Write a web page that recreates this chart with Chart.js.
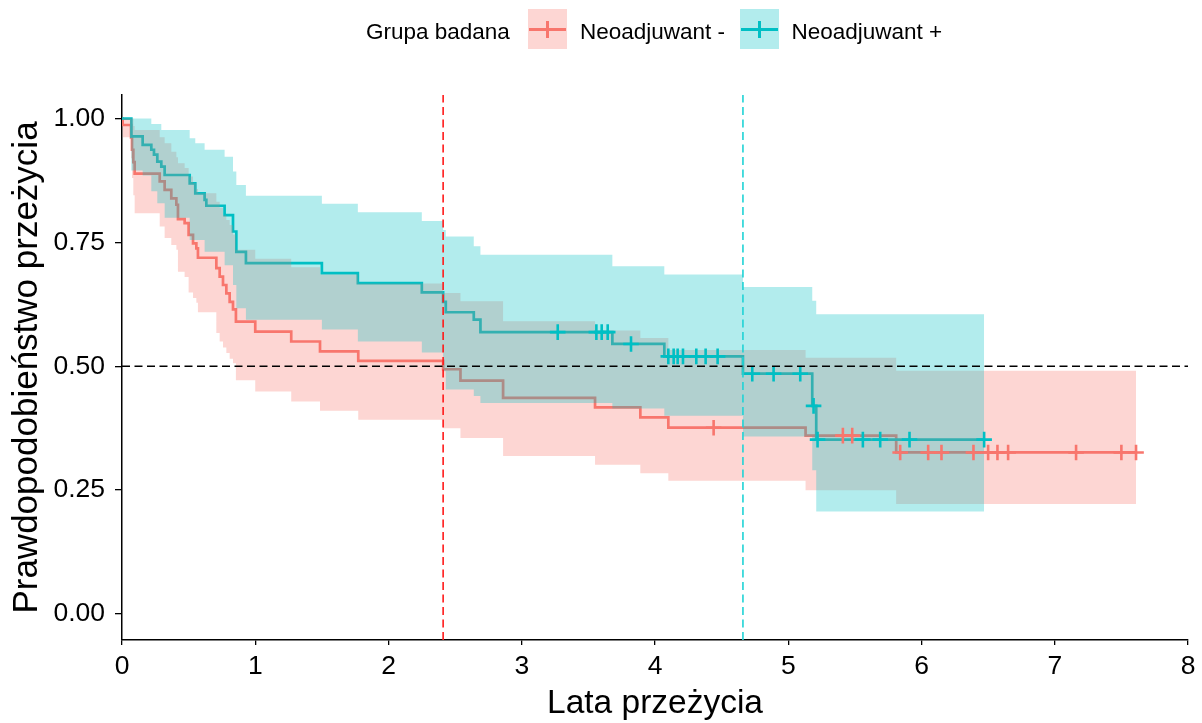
<!DOCTYPE html>
<html>
<head>
<meta charset="utf-8">
<title>Krzywe przeżycia Kaplana-Meiera</title>
<script src="https://cdn.jsdelivr.net/npm/chart.js@4.4.1/dist/chart.umd.min.js"></script>
<style>
  html, body { margin: 0; padding: 0; background: #ffffff; }
  #wrap { position: relative; width: 1202px; height: 723px; font-family: "Liberation Sans", Arial, sans-serif; }
  #chart { position: absolute; left: 0; top: 0; }
  .lg-text { position: absolute; top: 11.5px; height: 40px; line-height: 40px; font-size: 22.5px; color: #000; white-space: nowrap; }
  .lg-key { position: absolute; top: 9px; width: 39px; height: 40px; }
  .lg-key .h { position: absolute; left: 1px; right: 1px; top: 18.8px; height: 2.8px; }
  .lg-key .v { position: absolute; left: 18.2px; width: 2.6px; top: 11.7px; height: 17px; }
</style>
</head>
<body>
<div id="wrap">
  <canvas id="chart" width="1202" height="723"></canvas>
  <div class="lg-text" style="left:366px">Grupa badana</div>
  <div class="lg-key" style="left:528px;background:rgba(248,118,109,0.3)"><div class="h" style="background:#F8766D"></div><div class="v" style="background:#F8766D"></div></div>
  <div class="lg-text" style="left:580px">Neoadjuwant -</div>
  <div class="lg-key" style="left:740px;background:rgba(0,191,196,0.3)"><div class="h" style="background:#00BFC4"></div><div class="v" style="background:#00BFC4"></div></div>
  <div class="lg-text" style="left:791.5px">Neoadjuwant +</div>
</div>
<script>
// Axis ticks
const xTicks = [0, 1, 2, 3, 4, 5, 6, 7, 8];
const yTicks = [0, 0.25, 0.5, 0.75, 1];

// Group "Neoadjuwant -": event times (years), survival estimate, 95% CI
const negTimes = [0, 0.005, 0.068, 0.075, 0.085, 0.095, 0.283, 0.32, 0.37, 0.408, 0.42, 0.47, 0.50, 0.533, 0.558, 0.57,
  0.708, 0.733, 0.758, 0.783, 0.808, 0.833, 0.855, 1.0, 1.27, 1.486, 1.773, 2.41, 2.54, 2.86, 3.55, 3.89, 4.10, 5.13, 5.81];
const negSurv = [1, 0.987, 0.962, 0.937, 0.912, 0.889, 0.873, 0.856, 0.839, 0.826, 0.797, 0.789, 0.765, 0.748, 0.738, 0.719,
  0.698, 0.681, 0.664, 0.647, 0.630, 0.615, 0.590, 0.570, 0.550, 0.530, 0.511, 0.494, 0.471, 0.436, 0.417, 0.397, 0.376, 0.360, 0.326];
const negUpper = [1, 1, 1, 1, 0.985, 0.977, 0.962, 0.950, 0.933, 0.922, 0.910, 0.900, 0.883, 0.870, 0.858, 0.849,
  0.832, 0.820, 0.805, 0.795, 0.785, 0.766, 0.735, 0.717, 0.700, 0.685, 0.667, 0.648, 0.631, 0.591, 0.572, 0.557, 0.533, 0.517, 0.491];
const negLower = [1, 0.962, 0.920, 0.880, 0.845, 0.809, 0.782, 0.759, 0.745, 0.735, 0.691, 0.680, 0.649, 0.638, 0.628, 0.609,
  0.567, 0.550, 0.538, 0.527, 0.515, 0.506, 0.472, 0.449, 0.429, 0.410, 0.392, 0.375, 0.355, 0.319, 0.301, 0.284, 0.269, 0.250, 0.222];
const negEnd = 7.61;
const negCensTimes = [4.44, 5.41, 5.48, 5.84, 6.05, 6.15, 6.39, 6.50, 6.57, 6.65, 7.16, 7.50, 7.61];
const negCensSurv = [0.376, 0.360, 0.360, 0.326, 0.326, 0.326, 0.326, 0.326, 0.326, 0.326, 0.326, 0.326, 0.326];
const negMedian = 2.41;

// Group "Neoadjuwant +": event times (years), survival estimate, 95% CI
const posTimes = [0, 0.07, 0.155, 0.22, 0.24, 0.265, 0.295, 0.32, 0.508, 0.55, 0.62, 0.633, 0.77, 0.833, 0.858, 0.93,
  1.50, 1.77, 2.25, 2.41, 2.43, 2.64, 2.69, 3.68, 4.07, 4.66, 5.18, 5.21];
const posSurv = [1, 0.964, 0.947, 0.937, 0.927, 0.913, 0.903, 0.886, 0.869, 0.849, 0.836, 0.824, 0.805, 0.772, 0.731, 0.708,
  0.688, 0.668, 0.649, 0.630, 0.609, 0.594, 0.569, 0.545, 0.520, 0.485, 0.420, 0.352];
const posUpper = [1, 1, 1, 0.989, 0.989, 0.989, 0.977, 0.977, 0.960, 0.950, 0.937, 0.937, 0.923, 0.893, 0.866, 0.844,
  0.828, 0.811, 0.793, 0.775, 0.762, 0.742, 0.725, 0.702, 0.685, 0.660, 0.632, 0.605];
const posLower = [1, 0.895, 0.885, 0.853, 0.853, 0.829, 0.829, 0.800, 0.755, 0.755, 0.731, 0.731, 0.704, 0.664, 0.617, 0.594,
  0.574, 0.550, 0.528, 0.490, 0.453, 0.440, 0.426, 0.415, 0.400, 0.358, 0.290, 0.207];
const posEnd = 6.47;
const posCensTimes = [3.27, 3.56, 3.60, 3.645, 3.82, 4.10, 4.14, 4.17, 4.21, 4.31, 4.38, 4.47, 4.73, 4.89, 5.09, 5.19,
  5.22, 5.56, 5.69, 5.91, 6.47];
const posCensSurv = [0.569, 0.569, 0.569, 0.569, 0.545, 0.520, 0.520, 0.520, 0.520, 0.520, 0.520, 0.520, 0.485, 0.485, 0.485, 0.420,
  0.352, 0.352, 0.352, 0.352, 0.352];
const posMedian = 4.66;

const RED = '#F8766D';
const TEAL = '#00BFC4';
const Y_MIN = -0.0525, Y_MAX = 1.0475;
const FONT = '"Liberation Sans", Arial, sans-serif';

// step curve points, held to the last follow-up time
function stepPoints(times, values, end) {
  const pts = times.map((t, i) => ({ x: t, y: values[i] }));
  pts.push({ x: end, y: values[values.length - 1] });
  return pts;
}
function marks(times, values) {
  return times.map((t, i) => ({ x: t, y: values[i] }));
}

const stepLine = (data, color, order) => ({
  data, order, stepped: true, borderColor: color, borderWidth: 2.7,
  pointRadius: 0, fill: false, tension: 0
});
const bandEdge = (data, order, fill) => ({
  data, order, stepped: true, borderColor: 'transparent', borderWidth: 1,
  pointRadius: 0, fill, tension: 0
});
const censor = (data, color, order) => ({
  data, order, showLine: false, pointStyle: 'cross', pointRadius: 7.8,
  pointBorderWidth: 2.6, pointBorderColor: color, pointBackgroundColor: color
});
const dashed = (data, color) => ({
  data, order: 0, borderColor: color, borderWidth: 1.6, borderDash: [8, 4.5],
  pointRadius: 0, fill: false
});

const datasets = [
  stepLine(stepPoints(negTimes, negSurv, negEnd), RED, 20),                        // 0
  stepLine(stepPoints(posTimes, posSurv, posEnd), TEAL, 19),                       // 1
  bandEdge(stepPoints(negTimes, negLower, negEnd), 18, false),                     // 2
  bandEdge(stepPoints(negTimes, negUpper, negEnd), 17, { target: 2, above: 'rgba(248,118,109,0.3)', below: 'rgba(248,118,109,0.3)' }), // 3
  bandEdge(stepPoints(posTimes, posLower, posEnd), 16, false),                     // 4
  bandEdge(stepPoints(posTimes, posUpper, posEnd), 15, { target: 4, above: 'rgba(0,191,196,0.3)', below: 'rgba(0,191,196,0.3)' }),     // 5
  censor(marks(negCensTimes, negCensSurv), RED, 5),
  censor(marks(posCensTimes, posCensSurv), TEAL, 4),
  dashed([{ x: xTicks[0], y: 0.5 }, { x: xTicks[xTicks.length - 1], y: 0.5 }], '#000000'),
  dashed([{ x: negMedian, y: Y_MIN }, { x: negMedian, y: Y_MAX }], '#FF1A1A'),
  dashed([{ x: posMedian, y: Y_MIN }, { x: posMedian, y: Y_MAX }], '#1FD3D6')
];

new Chart(document.getElementById('chart'), {
  type: 'line',
  data: { datasets },
  options: {
    responsive: false,
    animation: false,
    devicePixelRatio: 1,
    layout: { padding: { top: 95, right: 14, left: 0, bottom: 0 } },
    plugins: { legend: { display: false }, tooltip: { enabled: false }, filler: { propagate: false } },
    scales: {
      x: {
        type: 'linear', min: 0, max: 8,
        afterBuildTicks: a => { a.ticks = xTicks.map(v => ({ value: v })); },
        afterFit: s => { s.height = 83; },
        ticks: { color: '#000', font: { family: FONT, size: 26.5 }, padding: 6, maxRotation: 0, autoSkip: false },
        grid: { drawOnChartArea: false, drawTicks: true, tickLength: 5, color: '#000', lineWidth: 1.3 },
        border: { display: true, color: '#000', width: 1.5 },
        title: { display: true, text: 'Lata przeżycia', color: '#000', font: { family: FONT, size: 33.5 }, padding: { top: 0, bottom: -1 } }
      },
      y: {
        type: 'linear', min: Y_MIN, max: Y_MAX,
        afterBuildTicks: a => { a.ticks = yTicks.map(v => ({ value: v })); },
        afterFit: s => { s.width = 122; },
        ticks: { color: '#000', font: { family: FONT, size: 26.5 }, padding: 10, callback: v => v.toFixed(2) },
        grid: { drawOnChartArea: false, drawTicks: true, tickLength: 7, color: '#000', lineWidth: 1.3 },
        border: { display: true, color: '#000', width: 1.5 },
        title: { display: true, text: 'Prawdopodobieństwo przeżycia', color: '#000', font: { family: FONT, size: 35 }, padding: { top: 6, bottom: 0 } }
      }
    }
  }
});
</script>
</body>
</html>
